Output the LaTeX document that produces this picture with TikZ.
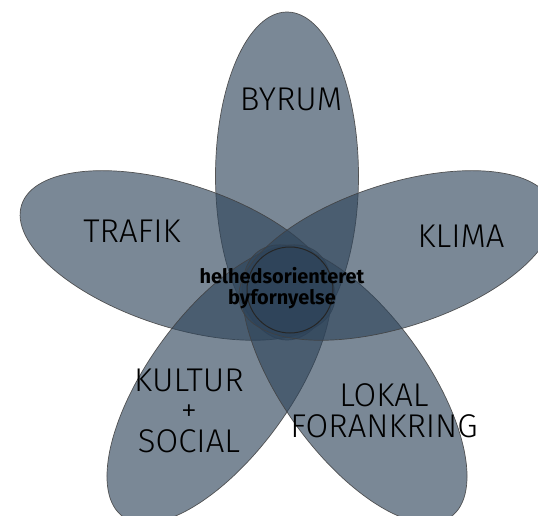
\documentclass[tikz,border=0pt]{standalone}
\usepackage{fontspec}
\setmainfont{Fira Sans}
\newfontfamily\labfont{Fira Sans Light}
\newfontfamily\ctrfont{Fira Sans}
\definecolor{petalc}{RGB}{45,67,89}
\tikzset{
  petal/.style={fill=petalc, fill opacity=0.63, draw=black!75, draw opacity=0.85, line width=0.7pt},
  lab/.style={font=\labfont\fontsize{33}{33}\selectfont, inner sep=0pt, anchor=base, text=black},
  ctr/.style={font=\ctrfont\bfseries\fontsize{20}{20}\selectfont, inner sep=0pt, anchor=base, text=black}
}
\begin{document}
\begin{tikzpicture}[x=1bp,y=-1bp]
\useasboundingbox (0,0) rectangle (538,516);
\begin{scope}
\clip (0,0) rectangle (538,516);
\coordinate (C) at (287,291);
\foreach \a in {0,72,144,216,288} {
  \draw[petal, rotate around={\a:(C)}] (287,176) ellipse [x radius=71.5bp, y radius=164bp];
}
\draw[draw=black!85, line width=1pt] (290,290) circle [radius=43bp];
\end{scope}
\node[lab] (byrum) at (291,111) {BYRUM};
\node[lab] (trafik) at (132,242) {TRAFIK};
\node[lab] (klima) at (461,247) {KLIMA};
\node[lab] (kultur) at (189,391) {KULTUR};
\node[lab] (plus) at (189,421) {+};
\node[lab] (social) at (189,452) {SOCIAL};
\node[lab] (lokal) at (384,406) {LOKAL};
\node[lab] (foran) at (384,437) {FORANKRING};
\node[ctr] (c1) at (282,283) {helhedsorienteret};
\node[ctr] (c2) at (282,304) {byfornyelse};
\end{tikzpicture}
\end{document}
